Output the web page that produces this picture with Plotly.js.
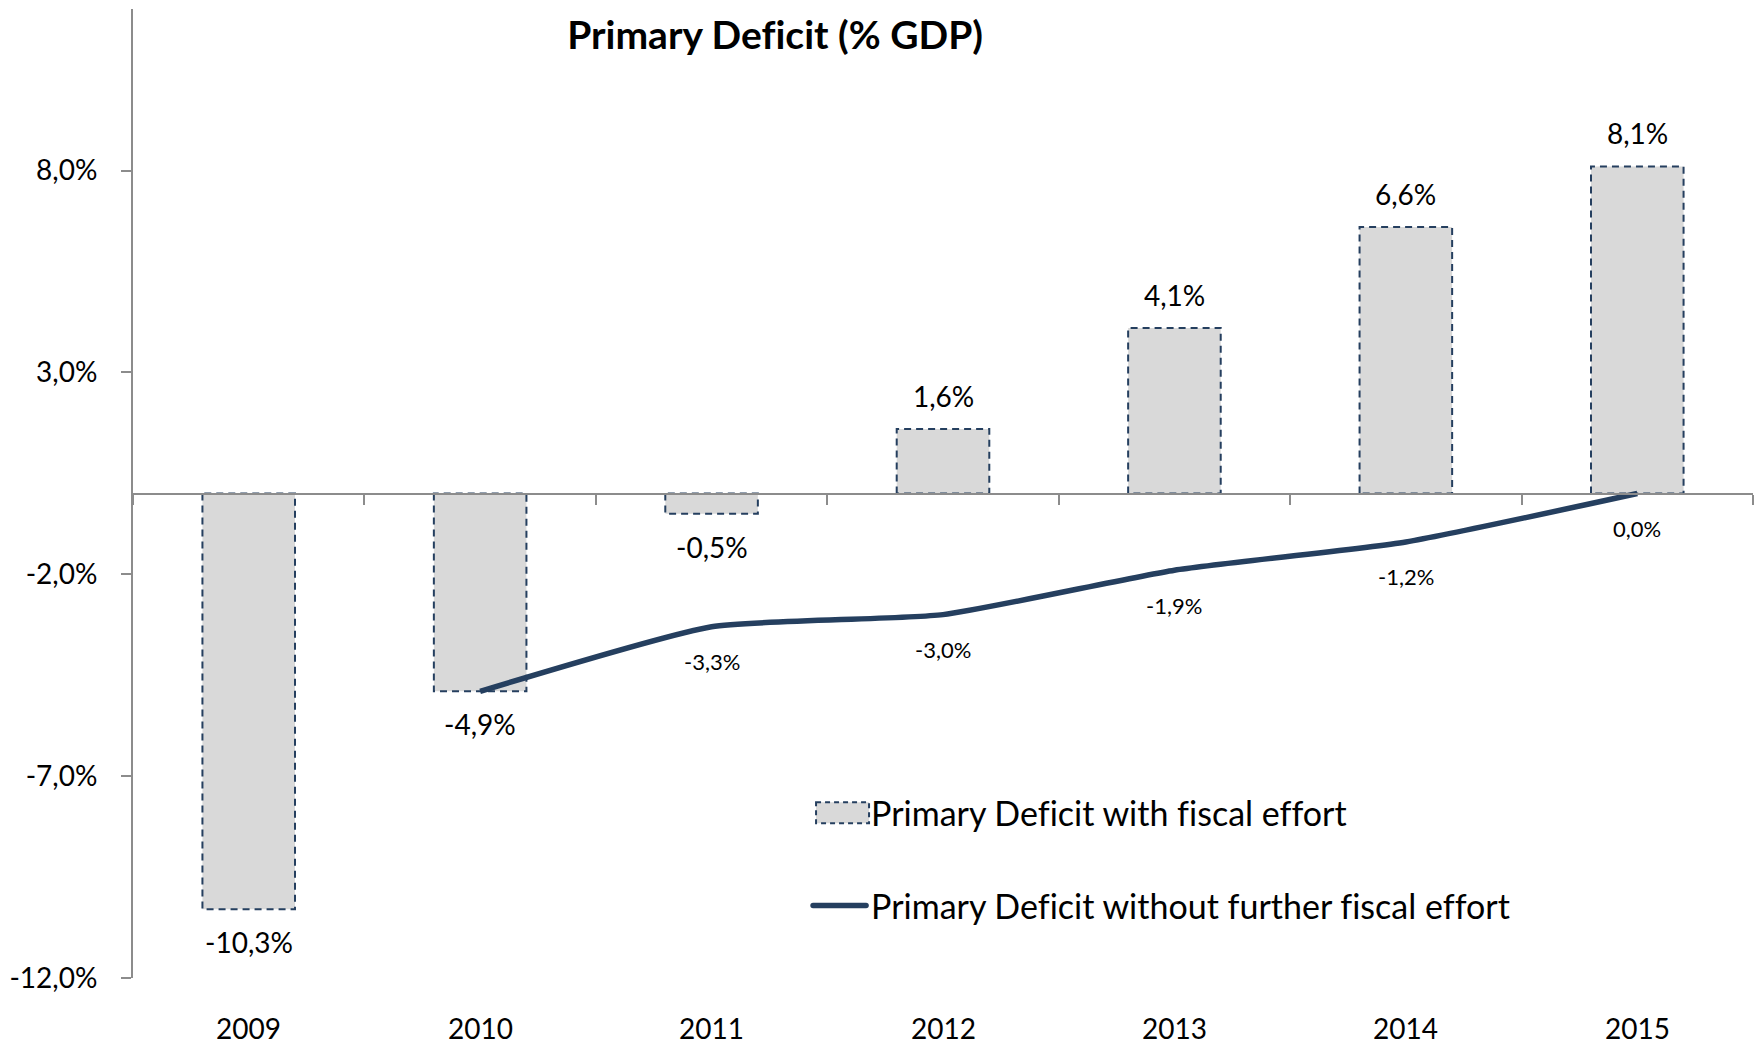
<!DOCTYPE html>
<html>
<head>
<meta charset="utf-8">
<script src="https://cdn.plot.ly/plotly-3.0.1.min.js"></script>
<style>
  html, body { margin: 0; padding: 0; background: #ffffff; }
  #chart { width: 1764px; height: 1046px; }
  .main-svg text { font-variant-ligatures: none; font-feature-settings: "liga" 0; }
</style>
</head>
<body>
<div id="chart"></div>
<script>
// ---- data ----
const years = ['2009', '2010', '2011', '2012', '2013', '2014', '2015'];
const withEffort = [-10.3, -4.9, -0.5, 1.6, 4.1, 6.6, 8.1];
const lineYears = ['2010', '2011', '2012', '2013', '2014', '2015'];
const withoutEffort = [-4.9, -3.3, -3.0, -1.9, -1.2, 0.0];
const yTickVals = [-12, -7, -2, 3, 8];
const titleText = 'Primary Deficit (% GDP)';
const barName = 'Primary Deficit with fiscal effort';
const lineName = 'Primary Deficit without further fiscal effort';

const fmt = v => v.toFixed(1).replace('.', ',') + '%';
const catIndex = yr => years.indexOf(yr);

const FONT = 'Lato, "Open Sans", sans-serif';
const NAVY = '#253f5f';
const GRAY = '#8c8c8c';

const barTrace = {
  type: 'bar',
  x: years,
  y: withEffort,
  name: barName,
  legend: 'legend',
  marker: { color: '#d9d9d9', line: { color: NAVY, width: 2 } },
  hoverinfo: 'skip'
};

const lineTrace = {
  type: 'scatter',
  mode: 'lines',
  x: lineYears,
  y: withoutEffort,
  name: lineName,
  legend: 'legend2',
  line: { color: NAVY, width: 5.5, shape: 'spline', smoothing: 0.5 },
  hoverinfo: 'skip'
};

const annotations = [];
// bar value labels
years.forEach((yr, i) => {
  const v = withEffort[i];
  annotations.push({
    x: catIndex(yr), y: v, xref: 'x', yref: 'y',
    text: fmt(v), showarrow: false,
    yanchor: 'middle', yshift: v >= 0 ? 33 : -33,
    font: { family: FONT, size: 28, color: '#000000' }
  });
});
// line value labels (first point shares the bar label)
lineYears.forEach((yr, i) => {
  if (i === 0) return;
  const v = withoutEffort[i];
  annotations.push({
    x: catIndex(yr), y: v, xref: 'x', yref: 'y',
    text: fmt(v), showarrow: false,
    yanchor: 'middle', yshift: -35,
    font: { family: FONT, size: 22, color: '#000000' }
  });
});
// category labels at the bottom
years.forEach(yr => {
  annotations.push({
    x: catIndex(yr), y: 0, xref: 'x', yref: 'paper',
    text: yr, showarrow: false,
    yanchor: 'middle', yshift: -50,
    font: { family: FONT, size: 28, color: '#000000' }
  });
});

const layout = {
  width: 1764,
  height: 1046,
  paper_bgcolor: '#ffffff',
  plot_bgcolor: '#ffffff',
  margin: { l: 133, r: 11, t: 9, b: 68, pad: 0 },
  font: { family: FONT, color: '#000000' },
  title: {
    text: '<b>' + titleText + '</b>',
    xref: 'container', yref: 'container',
    x: 0.4394, xanchor: 'center',
    y: 0.9666, yanchor: 'middle',
    font: { family: FONT, size: 39, color: '#000000' }
  },
  bargap: 0.6,
  showlegend: true,
  legend: {
    x: 0.4167, xanchor: 'left', y: 0.170, yanchor: 'middle',
    bgcolor: 'rgba(0,0,0,0)', borderwidth: 0,
    itemwidth: 53,
    font: { family: FONT, size: 34, color: '#000000' }
  },
  legend2: {
    x: 0.4167, xanchor: 'left', y: 0.0743, yanchor: 'middle',
    bgcolor: 'rgba(0,0,0,0)', borderwidth: 0,
    itemwidth: 53,
    font: { family: FONT, size: 34, color: '#000000' }
  },
  xaxis: {
    type: 'category',
    categoryorder: 'array',
    categoryarray: years,
    range: [-0.5, years.length - 0.5],
    autorange: false,
    anchor: 'free',
    position: 0.5,
    showline: true, linecolor: GRAY, linewidth: 2,
    ticks: 'outside', tickson: 'boundaries', ticklen: 10, tickwidth: 2, tickcolor: GRAY,
    showticklabels: false,
    showgrid: false, zeroline: false
  },
  yaxis: {
    range: [-12, 12],
    autorange: false,
    tickvals: yTickVals,
    ticktext: yTickVals.map(fmt),
    showline: true, linecolor: GRAY, linewidth: 2,
    ticks: 'outside', ticklen: 10, tickwidth: 2, tickcolor: GRAY,
    ticklabelstandoff: 18,
    tickfont: { family: FONT, size: 28, color: '#000000' },
    showgrid: false, zeroline: false
  },
  annotations: annotations
};

Plotly.newPlot('chart', [barTrace, lineTrace], layout, { staticPlot: true, displayModeBar: false })
  .then(gd => {
    // dashed outlines on the bars
    gd.querySelectorAll('.barlayer .point path').forEach(p => {
      p.style.strokeDasharray = '7,5';
    });
    // widen the bar legend symbol and dash it
    gd.querySelectorAll('g.legend .legendpoints path').forEach(p => {
      const bb = p.getBBox();
      const cx = bb.x + bb.width / 2;
      const w = 53, h = 21;
      p.setAttribute('d', 'M' + (cx - w / 2 + 3) + ',' + (-h / 2) + 'h' + w + 'v' + h + 'h' + (-w) + 'Z');
      p.style.strokeDasharray = '5,4';
      p.style.strokeWidth = '2px';
    });
    gd.querySelectorAll('.legendlines path').forEach(p => {
      p.style.strokeLinecap = 'round';
    });
  });
</script>
</body>
</html>
